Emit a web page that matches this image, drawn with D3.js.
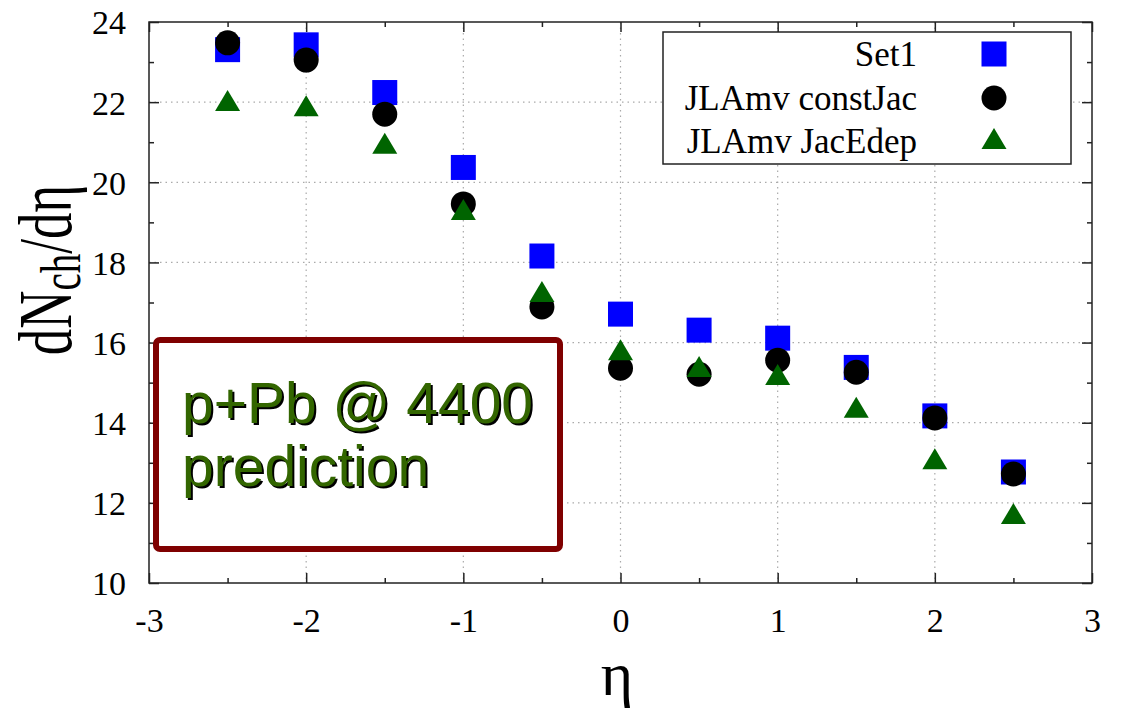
<!DOCTYPE html>
<html><head><meta charset="utf-8">
<script src="https://cdn.jsdelivr.net/npm/d3@7"></script>
<style>body{margin:0;background:#fff}svg{display:block}</style>
</head><body>
<svg id="c" width="1124" height="716"></svg>
<script>
const eta = [-2.5,-2,-1.5,-1,-0.5,0,0.5,1,1.5,2,2.5];
const set1 = [23.31,23.43,22.24,20.37,18.16,16.71,16.31,16.11,15.38,14.17,12.77];
const constJac = [23.48,23.05,21.70,19.46,16.89,15.36,15.21,15.56,15.26,14.12,12.72];
const jacEdep = [21.98,21.85,20.91,19.26,17.21,15.76,15.34,15.14,14.32,13.04,11.67];
const xTicks = [-3,-2,-1,0,1,2,3];
const yTicks = [10,12,14,16,18,20,22,24];
const seriesNames = ["Set1","JLAmv constJac","JLAmv JacEdep"];

const svg = d3.select("#c");
const L=149,R=1092,T=22,B=583;
const x = d3.scaleLinear().domain([-3,3]).range([L,R]);
const y = d3.scaleLinear().domain([10,24]).range([B,T]);
const serif = "'Liberation Serif','Times New Roman',serif";
const fmt = d => String(d); // plain hyphen-minus

// grid
const g = svg.append("g");
g.selectAll(".gx").data(xTicks.slice(1,-1)).enter().append("line")
 .attr("x1",d=>x(d)).attr("x2",d=>x(d)).attr("y1",T).attr("y2",B)
 .attr("stroke","#aaa").attr("stroke-width",1.2).attr("stroke-dasharray","1.5,4");
g.selectAll(".gy").data(yTicks.slice(1,-1)).enter().append("line")
 .attr("y1",d=>y(d)).attr("y2",d=>y(d)).attr("x1",L).attr("x2",R)
 .attr("stroke","#aaa").attr("stroke-width",1.2).attr("stroke-dasharray","1.5,4");

// axes
const minorX = d3.range(-2.5,3,1);
const minorY = d3.range(11,24,2);
function axisWith(axisFn, scale, ticks, minor, transform, labels){
  const a = svg.append("g").attr("transform",transform);
  a.call(axisFn(scale).tickValues(ticks).tickSize(-10).tickFormat(labels?fmt:""));
  const m = svg.append("g").attr("transform",transform);
  m.call(axisFn(scale).tickValues(minor).tickSize(-5).tickFormat(""));
  [a,m].forEach(s=>{s.select(".domain").remove(); s.selectAll("line").attr("stroke","#222").attr("stroke-width",1.5);});
  a.selectAll("text").attr("font-family",serif).attr("font-size",34).attr("fill","#000");
  return a;
}
const xa = axisWith(d3.axisBottom, x, xTicks, minorX, `translate(0,${B})`, true);
xa.selectAll("text").attr("dy",null).attr("y",49);
axisWith(d3.axisTop, x, xTicks, minorX, `translate(0,${T})`, false);
const ya = axisWith(d3.axisLeft, y, yTicks, minorY, `translate(${L},0)`, true);
ya.selectAll("text").attr("x",-23).attr("dy","0.35em");
axisWith(d3.axisRight, y, yTicks, minorY, `translate(${R},0)`, false);

svg.append("rect").attr("x",L).attr("y",T).attr("width",R-L).attr("height",B-T)
 .attr("fill","none").attr("stroke","#222").attr("stroke-width",1.5);

// annotation box
svg.append("rect").attr("x",156).attr("y",340).attr("width",404).attr("height",209).attr("rx",4)
 .attr("fill","#fff").attr("stroke","#7f0000").attr("stroke-width",6);
const annLines = ["p+Pb @ 4400","prediction"];
annLines.forEach((t,i)=>{
  svg.append("text").attr("x",184).attr("y",425+i*63).text(t)
   .attr("font-family","'Liberation Sans',Arial,sans-serif").attr("font-size",57).attr("fill","#000");
  svg.append("text").attr("x",182).attr("y",423+i*63).text(t)
   .attr("font-family","'Liberation Sans',Arial,sans-serif").attr("font-size",57).attr("fill","#336600");
});

// markers
const sq = 25, cr = 12.5;
const triPath = (cx,cy)=>{const h=21,w=25;return `M${cx},${cy-h*0.62}L${cx+w/2},${cy+h*0.38}L${cx-w/2},${cy+h*0.38}Z`;};
svg.append("g").selectAll("rect").data(eta).enter().append("rect")
 .attr("x",(d)=>x(d)-sq/2).attr("y",(d,i)=>y(set1[i])-sq/2).attr("width",sq).attr("height",sq).attr("fill","#0000ff");
svg.append("g").selectAll("circle").data(eta).enter().append("circle")
 .attr("cx",d=>x(d)).attr("cy",(d,i)=>y(constJac[i])).attr("r",cr).attr("fill","#000");
svg.append("g").selectAll("path").data(eta).enter().append("path")
 .attr("d",(d,i)=>triPath(x(d),y(jacEdep[i]))).attr("fill","#006400");

// legend
svg.append("rect").attr("x",663).attr("y",32).attr("width",408).attr("height",132)
 .attr("fill","#fff").attr("stroke","#222").attr("stroke-width",1.5);
const ly = [54,98,141];
seriesNames.forEach((n,i)=>{
  svg.append("text").attr("x",917).attr("y",ly[i]).attr("dy","0.35em").attr("text-anchor","end")
   .attr("font-family",serif).attr("font-size",35).attr("fill","#000").text(n);
});
svg.append("rect").attr("x",994-sq/2).attr("y",ly[0]-sq/2).attr("width",sq).attr("height",sq).attr("fill","#0000ff");
svg.append("circle").attr("cx",994).attr("cy",ly[1]).attr("r",cr).attr("fill","#000");
svg.append("path").attr("d",triPath(994,ly[2])).attr("fill","#006400");

// axis titles
const yl = svg.append("text").attr("transform","translate(71,270) rotate(-90) scale(1,1.45)").attr("text-anchor","middle")
 .attr("font-family",serif).attr("font-size",53).attr("fill","#000");
yl.append("tspan").text("dN");
yl.append("tspan").attr("font-size",39).attr("dy",6).text("ch");
yl.append("tspan").attr("dy",-6).text("/dη");
svg.append("text").attr("x",617).attr("y",695).attr("text-anchor","middle")
 .attr("font-family",serif).attr("font-size",62).attr("fill","#000").text("η");
</script>
</body></html>
